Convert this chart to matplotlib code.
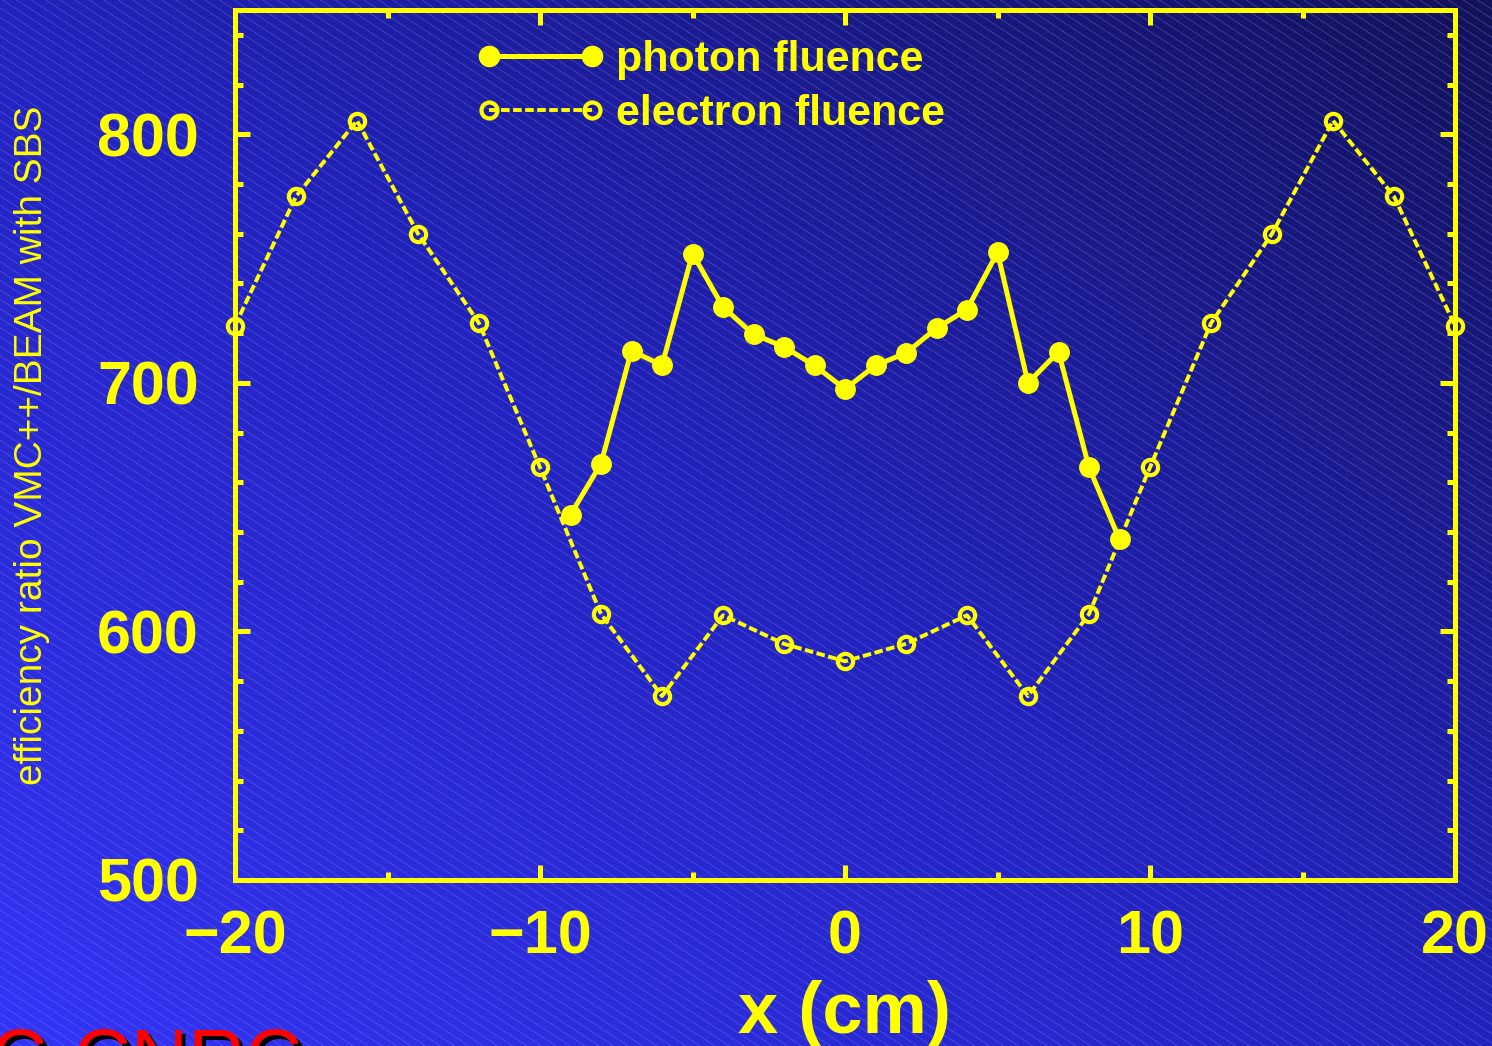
import matplotlib

matplotlib.use("Agg")
import matplotlib.pyplot as plt
import numpy as np
from matplotlib.collections import LineCollection
from matplotlib.colors import LinearSegmentedColormap

# photon fluence ratio, 1 cm steps
photon_x = [-9, -8, -7, -6, -5, -4, -3, -2, -1, 0, 1, 2, 3, 4, 5, 6, 7, 8, 9]
photon_y = [647, 667.5, 713, 707, 752, 730.5, 719.5, 714.5, 707, 697.5,
            707, 712, 722, 729.5, 752.5, 700, 712.5, 666, 637]

# electron fluence ratio, 2 cm steps
electron_x = [-20, -18, -16, -14, -12, -10, -8, -6, -4, -2, 0,
              2, 4, 6, 8, 10, 12, 14, 16, 18, 20]
electron_y = [723, 775, 805.5, 760, 724, 666, 607, 574, 606.5, 595, 588,
              595, 606.5, 574, 607, 666, 724, 760, 805.5, 775, 723]

x_ticks = [-20, -10, 0, 10, 20]
y_ticks = [500, 600, 700, 800]

YELLOW = "#FFFF00"
W, H = 1492, 1046

fig = plt.figure(figsize=(W / 100, H / 100), dpi=100)

# slide background: diagonal blue gradient with thin hatch lines
bg = fig.add_axes([0, 0, 1, 1], zorder=0)
bg.set_axis_off()
gx, gy = np.meshgrid(np.linspace(0, 1, 300), np.linspace(0, 1, 220))
grad = (gx + (1 - gy)) / 2  # 0 at bottom-left, 1 at top-right
cmap = LinearSegmentedColormap.from_list("slide", ["#3434F6", "#2222BC", "#121258"])
bg.imshow(grad, cmap=cmap, extent=(0, W, H, 0), aspect="auto", origin="upper")
slope = 0.65
segs = [[(0, c), (W, c + slope * W)] for c in np.arange(-slope * W, H, 9.4)]
bg.add_collection(LineCollection(segs, colors="#8080ff", linewidths=0.7, alpha=0.35))
bg.set_xlim(0, W)
bg.set_ylim(H, 0)

# logo text, cut off at the bottom edge
bg.text(307, 1089, "NRC-CNRC", color="black", fontsize=57, ha="right", va="baseline",
        family="Liberation Sans")
bg.text(303, 1085, "NRC-CNRC", color="#FF0000", fontsize=57, ha="right", va="baseline",
        family="Liberation Sans")

ax = fig.add_axes([235 / W, 1 - 880 / H, (1455 - 235) / W, (880 - 10) / H], zorder=1)
ax.patch.set_alpha(0)

ax.plot(photon_x, photon_y, "-o", color=YELLOW, lw=3.6, ms=14, clip_on=False,
        label="photon fluence", zorder=3)
ax.plot(electron_x, electron_y, color=YELLOW, lw=2.8, ls=(0, (2.2, 0.9)),
        marker="o", ms=11, mfc="none", mec=YELLOW, mew=3, clip_on=False,
        label="electron fluence", zorder=3)

ax.set_xlim(-20, 20)
ax.set_ylim(500, 850)
ax.set_xticks(x_ticks)
ax.set_yticks(y_ticks)
ax.set_xticks(np.arange(-20, 21, 5), minor=True)
ax.set_yticks(np.arange(500, 851, 20), minor=True)

for s in ax.spines.values():
    s.set_color(YELLOW)
    s.set_linewidth(3.6)

ax.tick_params(which="both", direction="in", top=True, right=True, color=YELLOW, width=3.6)
ax.tick_params(which="major", length=10.5)
ax.tick_params(which="minor", length=5.5)
ax.tick_params(axis="x", which="major", pad=21)
ax.tick_params(axis="y", which="major", pad=26)
for lab in ax.get_xticklabels() + ax.get_yticklabels():
    lab.set_fontfamily("Liberation Sans")
    lab.set_fontweight("bold")
    lab.set_fontsize(44)
    lab.set_color(YELLOW)

ax.set_xlabel("x (cm)", fontsize=52, fontweight="bold", color=YELLOW,
              family="Liberation Sans", labelpad=10)

fig.text(32 / W, 1 - 445 / H, "efficiency ratio VMC++/BEAM with SBS", rotation=90,
         ha="center", va="center", fontsize=28, color=YELLOW, family="Liberation Sans")

leg = ax.legend(loc="upper left", bbox_to_anchor=(476 / W, 1 - 40 / H),
                bbox_transform=fig.transFigure, frameon=False, numpoints=2,
                handlelength=3.0, handletextpad=0.26, labelspacing=0.33,
                borderpad=0, borderaxespad=0,
                prop={"family": "Liberation Sans", "weight": "bold", "size": 31})
for t in leg.get_texts():
    t.set_color(YELLOW)
for h in leg.legend_handles:
    h.set_markersize(14.5 if h.get_label() == "photon fluence" else 11.5)

fig.savefig("out.png", dpi=100)
